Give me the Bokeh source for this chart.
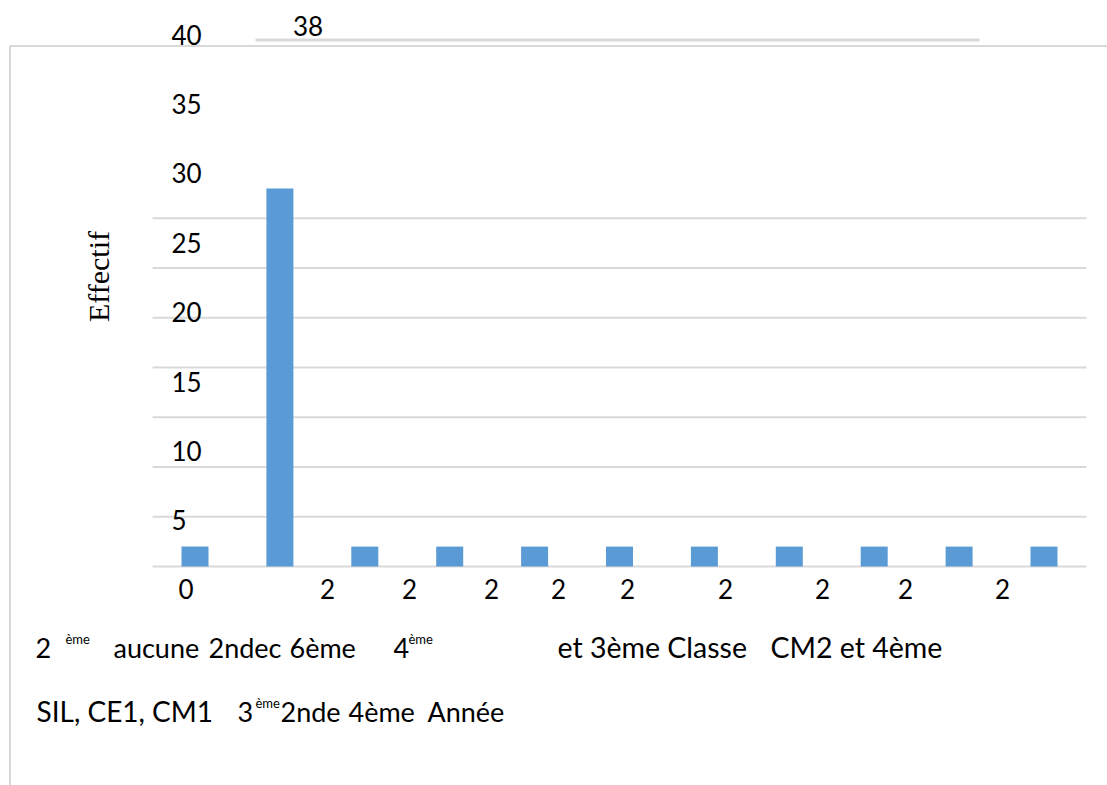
from bokeh.plotting import figure
from bokeh.models import Range1d
from bokeh.core.properties import value
from bokeh.embed import file_html
from bokeh.resources import INLINE
import math

# ---------------- data ----------------
bar_values = [2, 38, 2, 2, 2, 2, 2, 2, 2, 2, 2]
grid_ticks = [0, 5, 10, 15, 20, 25, 30, 35]
y_tick_labels = [5, 10, 15, 20, 25, 30, 35, 40]
data_labels = ["0", "38", "2", "2", "2", "2", "2", "2", "2", "2", "2"]
y_title = "Effectif"

line1_runs = ["2", "ème", "aucune", "2ndec", "6ème", "4", "ème", "et 3ème Classe", "CM2 et 4ème"]
line1_sup = [False, True, False, False, False, False, True, False, False]
line2_runs = ["SIL, CE1, CM1", "3", "ème", "2nde", "4ème", "Année"]
line2_sup = [False, False, True, False, False, False]

# ---------------- layout (screen pixels) ----------------
W, H = 1107, 785
BAR0, STEP = 194.5, 84.9        # pixel centre of first category, category pitch
BASE, PXU = 566.0, 9.95         # pixel of value 0, pixels per unit

def X(px):
    return (px - BAR0) / STEP

def Y(py):
    return (BASE - py) / PXU

BL_FIX = 0.37   # baseline correction (fraction of font size) for the svg text renderer

def TY(py, size):
    return Y(py - BL_FIX * size)

NUM_SIZE = 26
SUP_SIZE = 13

label_x_px = [185.5, 307.5, 327, 409, 491, 558, 627, 725, 822, 905, 1002]
label_base_px = [598, 35, 598, 598, 598, 598, 598, 598, 598, 598, 598]
ytick_left_px = 171
ytick_base0_px, ytick_step_px = 599.0, 13.88   # baseline where "0" would be, px per unit

line1_x_px = [35, 65, 113, 208, 289, 393, 408, 557, 770]
line1_size = [27, SUP_SIZE, 27, 27, 27, 27, SUP_SIZE, 28.5, 28.5]
line2_x_px = [36, 237, 255, 280, 348, 427]
line2_size = [28, 27, SUP_SIZE, 27, 27, 27]
line1_base, line2_base = 657, 721
sup_raise = 14

FONT = "Lato"
BLUE = "#5B9BD5"
GRAY = "#D9D9D9"

p = figure(width=W, height=H, output_backend="svg", toolbar_location=None,
           x_range=Range1d(X(0), X(W)), y_range=Range1d(Y(H), Y(0)),
           x_axis_location=None, y_axis_location=None, min_border=0)
p.outline_line_color = None
p.xgrid.visible = False
p.ygrid.visible = False
p.background_fill_color = "white"

# outer chart border (left + top)
p.line(x=[X(9.5), X(9.5), X(W + 20)], y=[Y(H + 20), Y(45.5), Y(45.5)],
       line_color=GRAY, line_width=2)

# horizontal gridlines spanning the category band
n = len(bar_values)
p.segment(x0=[-0.5] * len(grid_ticks), y0=grid_ticks, x1=[n - 0.5] * len(grid_ticks), y1=grid_ticks,
          line_color=GRAY, line_width=2)

# stray displaced gridline near the top
p.segment(x0=[X(255)], y0=[Y(39.5)], x1=[X(979)], y1=[Y(39.5)], line_color=GRAY, line_width=3)

# bars
p.vbar(x=list(range(n)), top=bar_values, bottom=0, width=27 / STEP,
       fill_color=BLUE, line_color=None)

# y tick labels (displaced)
p.text(x=[X(ytick_left_px)] * len(y_tick_labels),
       y=[TY(ytick_base0_px - ytick_step_px * v, NUM_SIZE) for v in y_tick_labels],
       text=[str(v) for v in y_tick_labels], text_font=value(FONT), text_font_size=f"{NUM_SIZE}px",
       text_align="left", text_baseline="alphabetic", text_color="black")

# data labels (displaced)
p.text(x=[X(v) for v in label_x_px], y=[TY(v, NUM_SIZE) for v in label_base_px], text=data_labels,
       text_font=value(FONT), text_font_size=f"{NUM_SIZE}px", text_align="center",
       text_baseline="alphabetic", text_color="black")

# y axis title
p.text(x=[X(98)], y=[Y(276)], text=[y_title], angle=math.pi / 2,
       text_font=value("Liberation Serif"), text_font_size="30px",
       text_align="center", text_baseline="middle", text_color="black")

# category label lines
def draw_line(runs, sups, xs, sizes, base):
    for r, s, xp, size in zip(runs, sups, xs, sizes):
        p.text(x=[X(xp)], y=[TY(base - sup_raise if s else base, size)], text=[r],
               text_font=value(FONT), text_font_size=f"{size}px",
               text_align="left", text_baseline="alphabetic", text_color="black")

draw_line(line1_runs, line1_sup, line1_x_px, line1_size, line1_base)
draw_line(line2_runs, line2_sup, line2_x_px, line2_size, line2_base)

open("out.html", "w").write(file_html(p, INLINE))
